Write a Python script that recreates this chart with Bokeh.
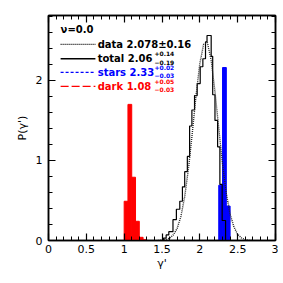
from bokeh.plotting import figure
from bokeh.models import Label, LinearAxis, SingleIntervalTicker, Range1d
from bokeh.embed import file_html
from bokeh.resources import INLINE

# ---- data ----
total_edges = [1.52, 1.555, 1.59, 1.645, 1.69, 1.735, 1.77, 1.80, 1.835, 1.865, 1.895,
               1.93, 1.965, 2.005, 2.04, 2.075, 2.095, 2.15, 2.17, 2.20, 2.235, 2.265,
               2.295, 2.34]
total_heights = [0.03, 0.07, 0.11, 0.26, 0.39, 0.49, 0.67, 0.86, 1.05, 1.43, 1.63,
                 1.81, 1.96, 2.17, 2.27, 2.48, 2.56, 2.30, 1.82, 1.50, 1.17, 0.70, 0.25]

dark_edges = [1.00, 1.05, 1.10, 1.15, 1.20, 1.25, 1.30]
dark_heights = [0.49, 1.70, 0.79, 0.24, 0.04, 0.01]

stars_edges = [2.25, 2.30, 2.35, 2.40]
stars_heights = [0.69, 2.16, 0.43]

data_x = [1.45, 1.50, 1.55, 1.60, 1.65, 1.70, 1.75, 1.80, 1.85, 1.90, 1.95, 2.00, 2.05,
          2.10, 2.15, 2.20, 2.25, 2.30, 2.35, 2.40, 2.45, 2.50, 2.55, 2.60, 2.65, 2.70]
data_y = [0.001, 0.004, 0.011, 0.029, 0.07, 0.15, 0.30, 0.55, 0.90, 1.34, 1.81, 2.21, 2.45,
          2.47, 2.25, 1.86, 1.40, 0.95, 0.59, 0.33, 0.17, 0.077, 0.032, 0.012, 0.004, 0.001]

x_ticks = [0, 0.5, 1, 1.5, 2, 2.5, 3]
x_tick_labels = ["0", "0.5", "1", "1.5", "2", "2.5", "3"]
y_ticks = [0, 1, 2]
y_tick_labels = ["0", "1", "2"]

legend_labels = ["data 2.078\u00b10.16", "total 2.06", "stars 2.33", "dark 1.08"]
legend_sup = ["", "+0.14", "+0.02", "+0.05"]
legend_sub = ["", "\u22120.19", "\u22120.03", "\u22120.03"]
legend_colors = ["black", "black", "blue", "red"]
legend_dash = ["1 1", "solid", "3 2", "8 3"]
title_text = "\u03bd=0.0"

FONT = "DejaVu Sans"

p = figure(width=278, height=278, output_backend="svg", toolbar_location=None,
           x_range=Range1d(0, 3), y_range=Range1d(0, 2.81),
           min_border_left=48, min_border_right=3, min_border_top=15, min_border_bottom=38)
p.xgrid.visible = False
p.ygrid.visible = False
p.outline_line_color = "black"
p.outline_line_width = 1.5
p.background_fill_color = "white"
p.border_fill_color = "white"

def style_axis(ax, ticker, overrides):
    ax.ticker = ticker
    ax.major_tick_in = 7
    ax.major_tick_out = 0
    ax.minor_tick_in = 4
    ax.minor_tick_out = 0
    ax.axis_line_width = 1.5
    ax.major_tick_line_width = 1.2
    ax.minor_tick_line_width = 1.0
    ax.major_label_overrides = overrides
    ax.major_label_text_font = FONT
    ax.major_label_text_color = "black"
    ax.major_label_text_font_size = "11px"

xov = {t: l for t, l in zip(x_ticks, x_tick_labels)}
yov = {t: l for t, l in zip(y_ticks, y_tick_labels)}

style_axis(p.xaxis[0], SingleIntervalTicker(interval=0.5, num_minor_ticks=5), xov)
style_axis(p.yaxis[0], SingleIntervalTicker(interval=1, num_minor_ticks=5), yov)
p.xaxis[0].major_label_standoff = 4
p.yaxis[0].major_label_standoff = 6
p.xaxis.axis_label = "\u03b3'"
p.yaxis.axis_label = "P(\u03b3')"
for ax in (p.xaxis[0], p.yaxis[0]):
    ax.axis_label_text_font = FONT
    ax.axis_label_text_font_size = "11px"
    ax.axis_label_text_font_style = "normal"
    ax.axis_label_text_color = "black"
p.xaxis[0].axis_label_standoff = 1
p.yaxis[0].axis_label_standoff = 4

top = LinearAxis()
style_axis(top, SingleIntervalTicker(interval=0.5, num_minor_ticks=5),
           {t: "" for t in x_ticks})
top.major_label_standoff = 0
p.add_layout(top, "above")
right = LinearAxis()
style_axis(right, SingleIntervalTicker(interval=1, num_minor_ticks=5),
           {t: "" for t in y_ticks})
right.major_label_standoff = 0
p.add_layout(right, "right")

# dark and stars histograms (filled)
p.quad(left=dark_edges[:-1], right=dark_edges[1:], bottom=0, top=dark_heights,
       fill_color="red", line_color="red", line_width=1)
p.quad(left=stars_edges[:-1], right=stars_edges[1:], bottom=0, top=stars_heights,
       fill_color="blue", line_color="blue", line_width=1)

# total histogram outline
sx = [total_edges[0]] + total_edges
sy = [0] + total_heights + [0]
p.step(x=sx, y=sy, mode="after", line_color="black", line_width=1.2)

# data curve
p.line(data_x, data_y, line_color="#222222", line_width=1.4, line_dash="1 1")

# legend
rows_y = [2.45, 2.27, 2.10, 1.925]
for i in range(4):
    p.line([0.16, 0.62], [rows_y[i], rows_y[i]], line_color=legend_colors[i],
           line_width=1.3, line_dash=legend_dash[i])
    p.add_layout(Label(x=0.65, y=rows_y[i], text=legend_labels[i], text_font=FONT,
                       text_font_size="10px", text_font_style="bold",
                       text_color=legend_colors[i], text_baseline="middle"))
    if legend_sup[i]:
        p.add_layout(Label(x=1.40, y=rows_y[i] + 0.06, text=legend_sup[i], text_font=FONT,
                           text_font_size="6px", text_font_style="bold",
                           text_color=legend_colors[i], text_baseline="middle"))
        p.add_layout(Label(x=1.40, y=rows_y[i] - 0.045, text=legend_sub[i], text_font=FONT,
                           text_font_size="6px", text_font_style="bold",
                           text_color=legend_colors[i], text_baseline="middle"))

p.add_layout(Label(x=0.16, y=2.64, text=title_text, text_font=FONT, text_font_size="10px",
                   text_font_style="bold", text_color="black", text_baseline="middle"))

open("out.html", "w").write(file_html(p, INLINE))
